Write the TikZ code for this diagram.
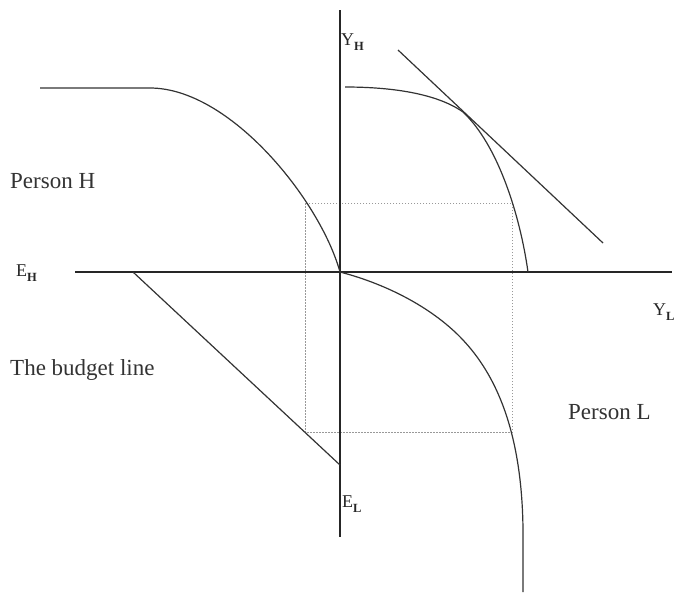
\documentclass[tikz,border=0pt]{standalone}
\usepackage{fontspec}
\setmainfont{Liberation Serif}
\newcommand{\mysub}[1]{\raisebox{-5pt}{\fontsize{12.5}{12.5}\selectfont\bfseries #1}}
\begin{document}
\begin{tikzpicture}[x=1pt,y=-1pt,
  axisline/.style={line width=1.3pt, black!85},
  curveline/.style={line width=1.2pt, black!80, line join=round},
  dotline/.style={gray!80, line width=0.9pt, dash pattern=on 1.5pt off 1.5pt},
  bigtext/.style={inner sep=0pt, anchor=base west, font=\fontsize{23}{27}\selectfont, text=black!80},
  axistext/.style={inner sep=0pt, anchor=base west, font=\fontsize{18}{20}\selectfont, text=black!85}]
\useasboundingbox (0,0) rectangle (676,598);
% coordinates
\coordinate (vt) at (340,10);
\coordinate (vb) at (340,537);
\coordinate (hl) at (75,272);
\coordinate (hr) at (672,272);
\coordinate (O) at (340,272);
\coordinate (bA) at (133,272);
\coordinate (bB) at (340,465);
\coordinate (tA) at (398,50);
\coordinate (tB) at (603,243);
\coordinate (T) at (463,112);
\coordinate (r1) at (305,203);
\coordinate (r2) at (512,432);
% dotted rectangle
\draw[dotline] (r1) rectangle (r2);
% axes
\draw[axisline] (vt) -- (vb);
\draw[axisline] (hl) -- (hr);
% budget line and tangent line
\draw[curveline] (bA) -- (bB);
\draw[curveline] (tA) -- (tB);
% Person H frontier (upper left)
\draw[curveline] (40,88) -- (150,88) .. controls (230,88) and (320,200) .. (O);
% upper right frontier
\draw[curveline] (345,87) .. controls (390,87) and (436,93) .. (T)
  .. controls (498,145) and (520,215) .. (528,272);
% Person L frontier (lower right)
\draw[curveline] (O) .. controls (390,285) and (435,310) .. (463,340)
  .. controls (495,374) and (522,430) .. (523,530) -- (523,592);
% labels
\node[bigtext] (ph) at (10,188) {Person H};
\node[bigtext] (bl) at (10,375) {The budget line};
\node[bigtext] (pl) at (568,419) {Person L};
\node[axistext] (yh) at (341,45) {Y\mysub{H}};
\node[axistext] (eh) at (16,276) {E\mysub{H}};
\node[axistext] (el) at (342,507) {E\mysub{L}};
\node[axistext] (yl) at (653,315) {Y\mysub{L}};
\end{tikzpicture}
\end{document}
